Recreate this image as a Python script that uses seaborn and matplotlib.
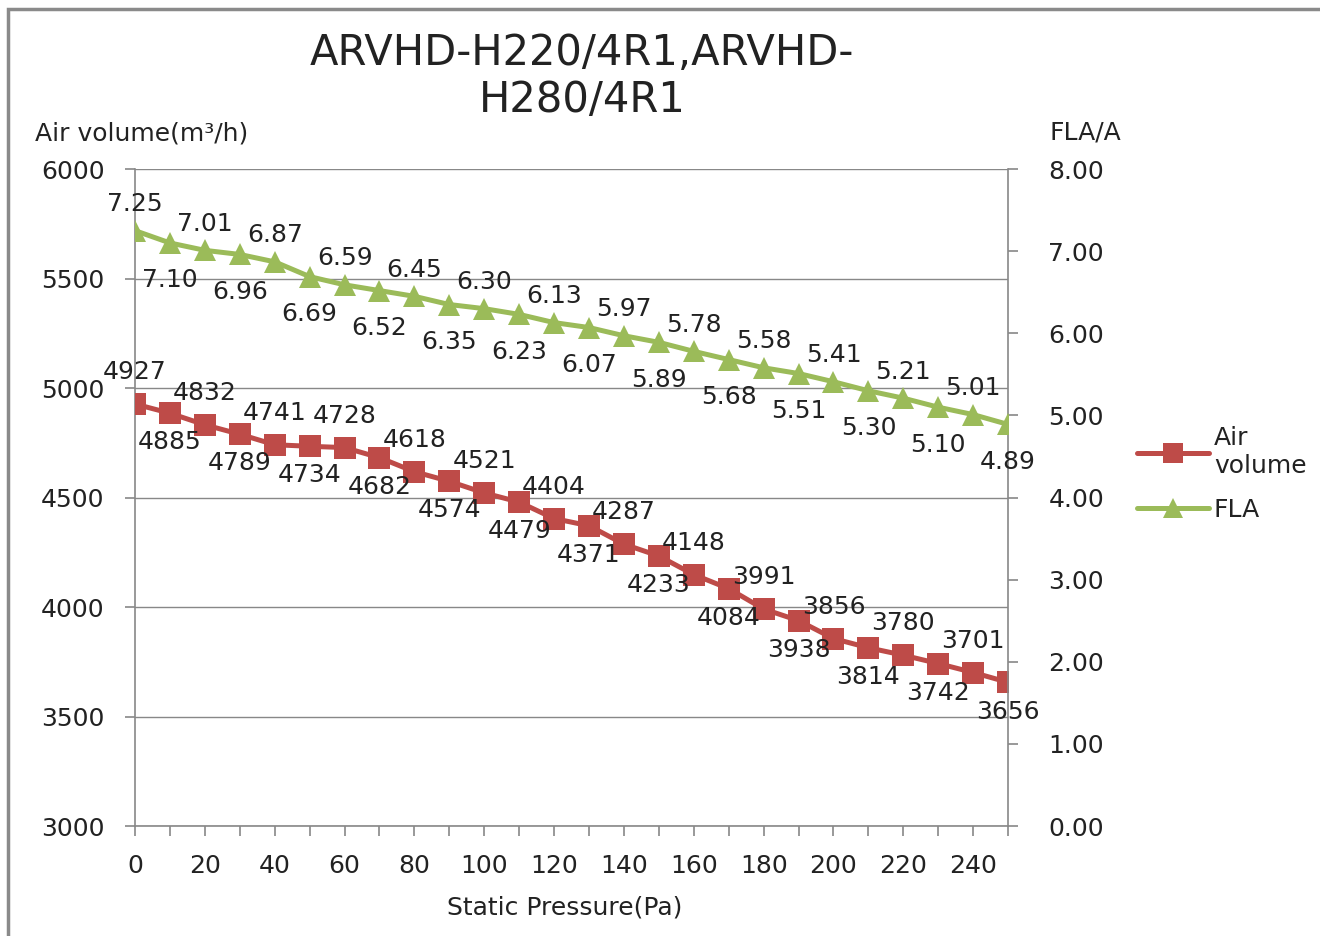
import matplotlib
matplotlib.use("Agg")
import matplotlib.pyplot as plt
from matplotlib.patches import Rectangle
from matplotlib.lines import Line2D
from matplotlib.ticker import FormatStrFormatter
import seaborn as sns

# Data
pressure = [0, 10, 20, 30, 40, 50, 60, 70, 80, 90, 100, 110, 120,
            130, 140, 150, 160, 170, 180, 190, 200, 210, 220, 230, 240, 250]
air_volume = [4927, 4885, 4832, 4789, 4741, 4734, 4728, 4682, 4618, 4574,
              4521, 4479, 4404, 4371, 4287, 4233, 4148, 4084, 3991, 3938,
              3856, 3814, 3780, 3742, 3701, 3656]
fla = [7.25, 7.10, 7.01, 6.96, 6.87, 6.69, 6.59, 6.52, 6.45, 6.35, 6.30,
       6.23, 6.13, 6.07, 5.97, 5.89, 5.78, 5.68, 5.58, 5.51, 5.41, 5.30,
       5.21, 5.10, 5.01, 4.89]
left_ticks = [3000, 3500, 4000, 4500, 5000, 5500, 6000]
right_ticks = [0, 1, 2, 3, 4, 5, 6, 7, 8]
x_labels = [str(v) if v % 20 == 0 and v <= 240 else "" for v in pressure]

RED = "#BE4B48"
GREEN = "#9BBB59"
GREY = "#888888"
TXT = "#222222"
FS = 18

sns.set_style("white")
plt.rcParams["font.family"] = ["DejaVu Sans"]

fig = plt.figure(figsize=(13.2, 9.36), dpi=100)
ax = fig.add_axes([0.1023, 0.1175, 0.6614, 0.7019])
ax2 = ax.twinx()

sns.lineplot(x=pressure, y=air_volume, ax=ax, color=RED, marker="s",
             markersize=16, linewidth=3.6, markeredgewidth=0, zorder=3)
sns.lineplot(x=pressure, y=fla, ax=ax2, color=GREEN, marker="^",
             markersize=16, linewidth=3.6, markeredgewidth=0, zorder=3)

# axes limits / ticks
ax.set_xlim(0, 250)
ax.set_ylim(3000, 6000)
ax2.set_ylim(0, 8)
ax.set_xticks(pressure)
ax.set_xticklabels(x_labels)
ax.set_yticks(left_ticks)
ax2.set_yticks(right_ticks)
ax2.yaxis.set_major_formatter(FormatStrFormatter("%.2f"))

ax.grid(axis="y", color=GREY, linewidth=1.0)
ax.set_axisbelow(True)
for a in (ax, ax2):
    for s in a.spines.values():
        s.set_visible(False)
ax.spines["left"].set_visible(True)
ax.spines["bottom"].set_visible(True)
ax2.spines["right"].set_visible(True)
for s in (ax.spines["left"], ax.spines["bottom"], ax2.spines["right"]):
    s.set_color(GREY)
    s.set_linewidth(1.2)

ax.tick_params(axis="x", direction="out", length=7, width=1.2, color=GREY,
               labelsize=FS, labelcolor=TXT, pad=13, bottom=True)
ax.tick_params(axis="y", direction="out", length=7, width=1.2, color=GREY,
               labelsize=FS, labelcolor=TXT, pad=15, left=True)
ax2.tick_params(axis="y", direction="out", length=7, width=1.2, color=GREY,
                labelsize=FS, labelcolor=TXT, pad=22, right=True)
ax.set_xlabel("")
ax.set_ylabel("")
ax2.set_ylabel("")

# data labels, alternating above / below
for i, (x, y) in enumerate(zip(pressure, air_volume)):
    dy = 23 if i % 2 == 0 else -21
    ax.annotate(str(y), (x, y), xytext=(0, dy), textcoords="offset points",
                ha="center", va="center", fontsize=FS, color=TXT, zorder=5)
for i, (x, y) in enumerate(zip(pressure, fla)):
    dy = 19 if i % 2 == 0 else -27
    ax2.annotate(f"{y:.2f}", (x, y), xytext=(0, dy), textcoords="offset points",
                 ha="center", va="center", fontsize=FS, color=TXT, zorder=5)

# titles and axis captions
fig.text(582 / 1320, 1 - 32 / 936, "ARVHD-H220/4R1,ARVHD-\nH280/4R1",
         ha="center", va="top", fontsize=30, color=TXT, linespacing=1.15)
fig.text(35 / 1320, 1 - 133 / 936, "Air volume(m³/h)", ha="left",
         va="center", fontsize=FS, color=TXT)
fig.text(1050 / 1320, 1 - 133 / 936, "FLA/A", ha="left", va="center",
         fontsize=FS, color=TXT)
fig.text(565 / 1320, 1 - 907 / 936, "Static Pressure(Pa)", ha="center",
         va="center", fontsize=FS, color=TXT)

# legend
handles = [
    Line2D([], [], color=RED, marker="s", markersize=14, linewidth=3.6,
           markeredgewidth=0),
    Line2D([], [], color=GREEN, marker="^", markersize=14, linewidth=3.6,
           markeredgewidth=0),
]
fig.legend(handles, ["Air\nvolume", "FLA"], loc="center left",
           bbox_to_anchor=(1114 / 1320, 1 - 474 / 936), frameon=False,
           fontsize=FS, handlelength=2.9, handletextpad=0.2,
           labelspacing=0.8, labelcolor=TXT)

# outer chart border
fig.patches.append(Rectangle((8 / 1320, -0.05), 1.1, 1 - 9 / 936 + 0.05,
                             transform=fig.transFigure, fill=False,
                             edgecolor="#8a8a8a", linewidth=2.5))

fig.savefig("out.png", dpi=100)
